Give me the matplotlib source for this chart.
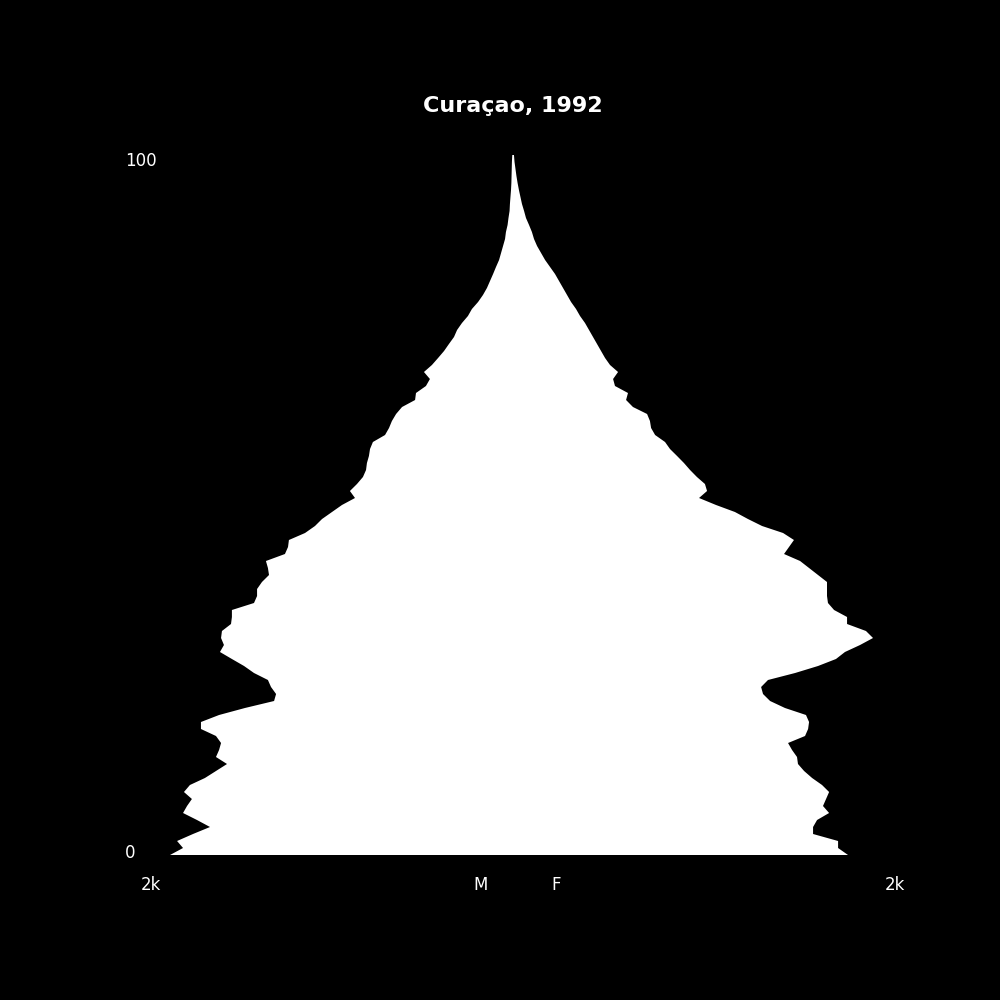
import matplotlib.pyplot as plt
import matplotlib.transforms as mtransforms

# Curaçao 1992 population by single year of age (0..100)
ages = list(range(101))

male = [1895, 1823, 1856, 1768, 1674, 1746, 1823, 1801, 1774, 1818,
        1785, 1702, 1641, 1580, 1641, 1624, 1613, 1641, 1724, 1724,
        1624, 1481, 1320, 1309, 1337, 1354, 1431, 1486, 1553, 1619,
        1597, 1613, 1608, 1558, 1553, 1553, 1431, 1414, 1414, 1387,
        1348, 1354, 1365, 1260, 1243, 1238, 1149, 1094, 1055, 1000,
        945, 873, 901, 862, 829, 812, 807, 796, 790, 774,
        707, 685, 669, 646, 613, 541, 536, 481, 459, 492,
        448, 414, 381, 354, 326, 309, 282, 249, 227, 193,
        166, 144, 127, 110, 94, 77, 66, 55, 44, 39,
        30, 25, 19, 17, 14, 11, 9, 8, 7, 6,
        4]

female = [1754, 1702, 1702, 1571, 1571, 1592, 1655, 1623, 1639, 1655,
          1618, 1566, 1524, 1492, 1487, 1461, 1440, 1529, 1545, 1550,
          1534, 1424, 1346, 1309, 1299, 1335, 1477, 1597, 1691, 1738,
          1817, 1885, 1848, 1749, 1749, 1681, 1649, 1644, 1644, 1644,
          1597, 1550, 1503, 1419, 1445, 1471, 1414, 1304, 1230, 1162,
          1063, 974, 1016, 1005, 963, 927, 895, 859, 822, 796,
          744, 723, 717, 702, 628, 592, 602, 534, 524, 550,
          508, 482, 461, 440, 419, 398, 377, 351, 330, 304,
          283, 262, 241, 220, 194, 168, 147, 126, 110, 99,
          84, 68, 58, 47, 39, 31, 24, 18, 13, 8,
          5]

x_max = 2000
x_label = '2k'
title = 'Curaçao, 1992'

fig = plt.figure(figsize=(10, 10), dpi=100, facecolor='black')

# two half-axes: men on the left (reversed), women on the right
ax_m = fig.add_axes([0.151, 0.145, 0.362, 0.70])
ax_f = fig.add_axes([0.513, 0.145, 0.382, 0.70])

for ax in (ax_m, ax_f):
    ax.set_facecolor('black')
    ax.set_ylim(0, 100)
    ax.axis('off')

ax_m.set_xlim(x_max, 0)
ax_f.set_xlim(0, x_max)

ax_m.fill_betweenx(ages, 0, male, facecolor='white', edgecolor='none', linewidth=0)
ax_f.fill_betweenx(ages, 0, female, facecolor='white', edgecolor='none', linewidth=0)

# x labels: value in data units, height in figure units
tr_m = mtransforms.blended_transform_factory(ax_m.transData, fig.transFigure)
tr_f = mtransforms.blended_transform_factory(ax_f.transData, fig.transFigure)
ax_m.text(x_max, 0.110, x_label, transform=tr_m, color='white', fontsize=12,
          ha='center', va='baseline')
ax_f.text(x_max, 0.110, x_label, transform=tr_f, color='white', fontsize=12,
          ha='center', va='baseline')

fig.text(0.481, 0.110, 'M', color='white', fontsize=12, ha='center', va='baseline')
fig.text(0.556, 0.110, 'F', color='white', fontsize=12, ha='center', va='baseline')

# age labels
fig.text(0.125, 1 - 0.858, '0', color='white', fontsize=12, ha='left', va='baseline')
fig.text(0.125, 1 - 0.166, '100', color='white', fontsize=12, ha='left', va='baseline')

fig.text(0.513, 1 - 0.112, title, color='white', fontsize=16, fontweight='bold',
         ha='center', va='baseline')

plt.savefig('out.png', dpi=100, facecolor='black')
